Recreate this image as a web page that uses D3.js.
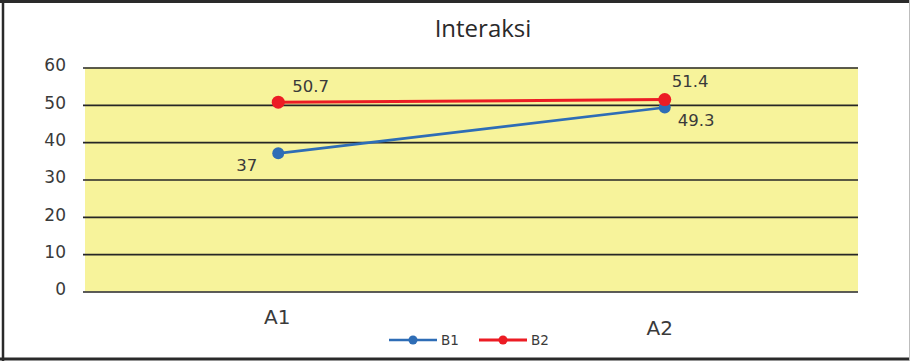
<!DOCTYPE html>
<html><head><meta charset="utf-8">
<script src="https://cdn.jsdelivr.net/npm/d3@7"></script>
<style>
html,body{margin:0;padding:0;background:#fff;}
svg{display:block;}
</style></head>
<body>
<svg id="chart" width="910" height="361"></svg>
<script>
const title = "Interaksi";
const categories = ["A1", "A2"];
const yTicks = [0, 10, 20, 30, 40, 50, 60];
const b1Values = [37, 49.3];
const b2Values = [50.7, 51.4];
const seriesNames = ["B1", "B2"];

const svg = d3.select("#chart");
const W = 910, H = 361;
const m = {left: 85, right: 858, top: 67.5, bottom: 291.5};
const colors = {B1: "#2e6db6", B2: "#ec1c24"};

// frame
svg.append("line").attr("x1",0).attr("x2",W).attr("y1",1.5).attr("y2",1.5).attr("stroke","#2a2a2a").attr("stroke-width",3);
svg.append("line").attr("x1",3).attr("x2",3).attr("y1",0).attr("y2",H).attr("stroke","#2a2a2a").attr("stroke-width",2.5);
svg.append("line").attr("x1",0).attr("x2",W).attr("y1",359).attr("y2",359).attr("stroke","#2a2a2a").attr("stroke-width",3);
svg.append("line").attr("x1",909.5).attr("x2",909.5).attr("y1",0).attr("y2",H).attr("stroke","#bdbdbd").attr("stroke-width",1);

const x = d3.scaleBand().domain(categories).range([m.left, m.right]).padding(0);
const xc = d => x(d) + x.bandwidth()/2;
const y = d3.scaleLinear().domain([0, 60]).range([m.bottom, m.top]);

// plot area fill
svg.append("rect").attr("x", m.left).attr("y", m.top).attr("width", m.right-m.left).attr("height", m.bottom-m.top).attr("fill","#f7f39b");

// y axis with gridlines
const yAxis = d3.axisLeft(y).tickValues(yTicks).tickSize(-(m.right-m.left)-2).tickPadding(17).tickFormat(d3.format("d"));
const gy = svg.append("g").attr("transform", `translate(${m.left-2},0)`).call(yAxis);
gy.select(".domain").remove();
gy.selectAll(".tick line").attr("stroke","#262626").attr("stroke-width",1.6);
gy.selectAll(".tick text").attr("fill","#3a3a3a").style("font-family","DejaVu Sans").style("font-size","17px").attr("dy","0.2em");

// x axis labels
const xAxis = d3.axisBottom(x).tickSize(0).tickPadding(0);
const gx = svg.append("g").attr("transform", `translate(0,${m.bottom})`).call(xAxis);
gx.select(".domain").remove();
gx.selectAll(".tick text").attr("fill","#3a3a3a").style("font-family","DejaVu Sans").style("font-size","20px")
  .attr("dy", (d,i) => i === 0 ? "1.6em" : "2.15em")
  .attr("dx", (d,i) => i === 0 ? -1 : -5);

// title
svg.append("text").attr("x", 483).attr("y", 37).attr("text-anchor","middle")
  .attr("fill","#2a2a2a").style("font-family","Open Sans").style("font-size","24px").text(title);

// series
const series = [
  {name: seriesNames[0], values: b1Values, lw: 2.6, r: 6,
   lab: [{dx:-21, dy:18, anchor:"end"}, {dx:13, dy:19, anchor:"start"}]},
  {name: seriesNames[1], values: b2Values, lw: 3, r: 6.5,
   lab: [{dx:14, dy:-10, anchor:"start"}, {dx:7, dy:-13, anchor:"start"}]}
];
const line = d3.line().x((d,i) => xc(categories[i])).y(d => y(d));
series.forEach(s => {
  svg.append("path").datum(s.values).attr("d", line).attr("fill","none")
    .attr("stroke", colors[s.name]).attr("stroke-width", s.lw);
});
series.forEach(s => {
  svg.selectAll(null).data(s.values).enter().append("circle")
    .attr("cx",(d,i)=>xc(categories[i])).attr("cy",d=>y(d)).attr("r",s.r).attr("fill",colors[s.name]);
});
series.forEach(s => {
  svg.selectAll(null).data(s.values).enter().append("text")
    .attr("x",(d,i)=>xc(categories[i]) + s.lab[i].dx).attr("y",(d,i)=>y(d) + s.lab[i].dy)
    .attr("text-anchor",(d,i)=>s.lab[i].anchor)
    .attr("fill","#3a3a3a").style("font-family","DejaVu Sans").style("font-size","16.5px")
    .text(d=>d);
});

// legend
const legendX = [389, 479];
series.forEach((s,i) => {
  const g = svg.append("g").attr("transform", `translate(${legendX[i]},340)`);
  g.append("line").attr("x1",0).attr("x2",48).attr("y1",0).attr("y2",0).attr("stroke",colors[s.name]).attr("stroke-width",s.lw);
  g.append("circle").attr("cx",24).attr("cy",0).attr("r",4.5).attr("fill",colors[s.name]);
  g.append("text").attr("x",52).attr("y",5).attr("fill","#3a3a3a").style("font-family","DejaVu Sans").style("font-size","13.5px").text(s.name);
});
</script>
</body></html>
